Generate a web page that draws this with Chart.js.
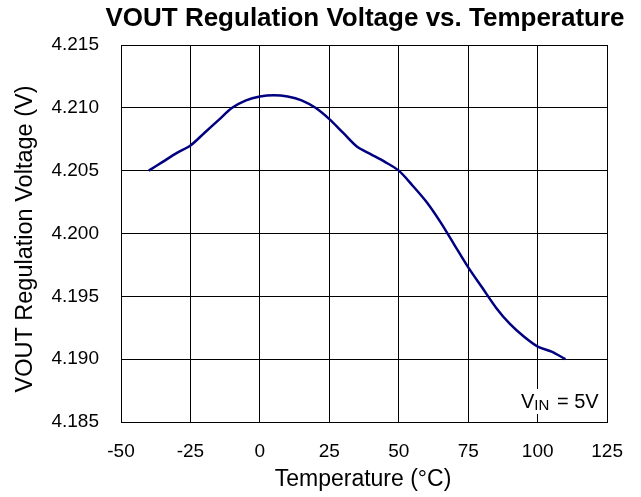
<!DOCTYPE html>
<html>
<head>
<meta charset="utf-8">
<script src="https://cdn.jsdelivr.net/npm/chart.js@4"></script>
<style>
  html, body { margin: 0; padding: 0; background: #fff; }
  #wrap { width: 641px; height: 497px; }
</style>
</head>
<body>
<div id="wrap"><canvas id="chart" width="641" height="497"></canvas></div>
<script>
// donnees
const temps = [-40, -35, -30, -25, -20, -15, -10, -5, 0, 5, 10, 15, 20, 25, 30, 35, 40, 45, 50,
  55, 60, 65, 70, 75, 80, 85, 90, 95, 100, 105, 110];
const vout = [4.2050, 4.2057, 4.2064, 4.2070, 4.2080, 4.2090, 4.2100, 4.2106, 4.2109, 4.2110,
  4.2109, 4.2106, 4.2100, 4.2091, 4.2080, 4.2069, 4.2063, 4.2057, 4.2050,
  4.2038, 4.2025, 4.2009, 4.1991, 4.1973, 4.1957, 4.1941, 4.1928, 4.1918, 4.1910, 4.1906, 4.1900];
const xTicks = [-50, -25, 0, 25, 50, 75, 100, 125];
const yTicks = [4.185, 4.190, 4.195, 4.200, 4.205, 4.210, 4.215];

const FONT = 'Liberation Sans, Arial, sans-serif';

// titres + annotation VIN
const textPlugin = {
  id: 'texts',
  afterDraw(c) {
    const ctx = c.ctx;
    const a = c.chartArea;
    ctx.save();
    ctx.fillStyle = '#000';
    ctx.textBaseline = 'alphabetic';

    ctx.font = 'bold 26px ' + FONT;
    ctx.textAlign = 'center';
    ctx.fillText('VOUT Regulation Voltage vs. Temperature', 365, 26);

    ctx.font = '23px ' + FONT;
    ctx.fillText('Temperature (°C)', 363, 486);

    ctx.save();
    ctx.translate(32, 239);
    ctx.rotate(-Math.PI / 2);
    ctx.font = '23.5px ' + FONT;
    ctx.fillText('VOUT Regulation Voltage (V)', 0, 0);
    ctx.restore();

    // boite blanche derriere le texte
    ctx.fillStyle = '#fff';
    ctx.fillRect(a.right - 90, a.bottom - 33, 88, 25);
    ctx.fillStyle = '#000';
    ctx.textAlign = 'left';
    let x = 521, y = 408;
    ctx.font = '20px ' + FONT;
    ctx.fillText('V', x, y);
    x += ctx.measureText('V').width;
    ctx.font = '15px ' + FONT;
    ctx.fillText('IN', x, y + 2);
    x += ctx.measureText('IN').width;
    ctx.font = '20px ' + FONT;
    ctx.fillText(' = 5V', x + 2, y);
    ctx.restore();
  }
};

const chart = new Chart(document.getElementById('chart').getContext('2d'), {
  type: 'scatter',
  data: {
    datasets: [{
      data: temps.map((t, i) => ({ x: t, y: vout[i] })),
      showLine: true,
      borderColor: '#000080',
      borderWidth: 2.5,
      pointRadius: 0,
      tension: 0.3,
      fill: false
    }]
  },
  options: {
    responsive: false,
    animation: false,
    devicePixelRatio: 1,
    layout: { padding: { top: 45, right: 33, left: 0, bottom: 0 } },
    plugins: { legend: { display: false }, tooltip: { enabled: false } },
    scales: {
      x: {
        type: 'linear',
        min: -50, max: 125,
        afterBuildTicks: s => { s.ticks = xTicks.map(v => ({ value: v })); },
        afterFit: s => { s.height = 75; },
        ticks: { color: '#000', font: { family: FONT, size: 19 }, padding: 18, maxRotation: 0 },
        grid: { color: '#000', lineWidth: 1, drawTicks: false },
        border: { color: '#000', width: 1 }
      },
      y: {
        type: 'linear',
        min: 4.185, max: 4.215,
        afterBuildTicks: s => { s.ticks = yTicks.map(v => ({ value: v })); },
        afterFit: s => { s.width = 121; },
        ticks: { color: '#000', font: { family: FONT, size: 19 }, padding: 22, callback: v => v.toFixed(3) },
        grid: { color: '#000', lineWidth: 1, drawTicks: false },
        border: { color: '#000', width: 1 }
      }
    }
  },
  plugins: [textPlugin]
});
</script>
</body>
</html>
